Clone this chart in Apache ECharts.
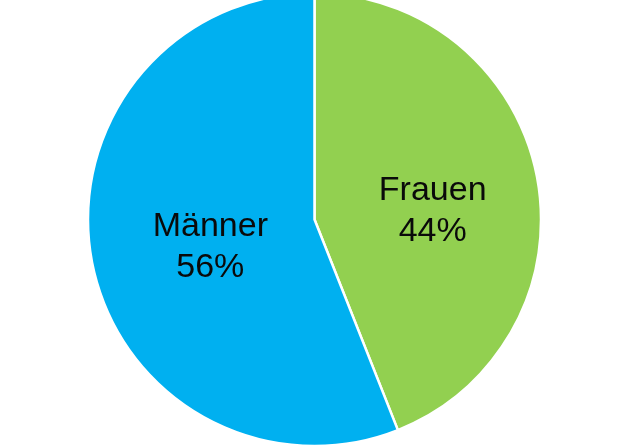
<!DOCTYPE html>
<html>
<head>
<meta charset="utf-8">
<script src="https://cdn.jsdelivr.net/npm/echarts@6/dist/echarts.min.js"></script>
<style>
  html, body { margin: 0; padding: 0; background: #fff; }
  #chart { width: 640px; height: 448px; }
</style>
</head>
<body>
<div id="chart"></div>
<script>
// Geschlechterverteilung
var categories = ["Frauen", "Männer"];
var shares = [44, 56];
var colors = ["#92D050", "#00B0F0"];

var chart = echarts.init(document.getElementById("chart"), null, { renderer: "canvas" });

var seriesData = categories.map(function (name, i) {
  return { name: name, value: shares[i], itemStyle: { color: colors[i] } };
});

chart.setOption({
  animation: false,
  series: [
    {
      type: "pie",
      center: [314.5, 219.5],
      radius: 226.5,
      startAngle: 90,
      clockwise: true,
      data: seriesData,
      itemStyle: { borderColor: "#fff", borderWidth: 2.5 },
      label: {
        show: true,
        position: "inside",
        formatter: function (p) {
          return p.name + "\n" + p.value + "%";
        },
        color: "#0a0a0a",
        fontFamily: "Liberation Sans, Arial, sans-serif",
        fontSize: 34,
        lineHeight: 41
      },
      labelLine: { show: false },
      labelLayout: function (p) {
        // kleine Korrektur der Beschriftung
        return p.dataIndex === 0 ? { dx: 4, dy: 13 } : { dx: 10, dy: 6 };
      }
    }
  ]
});
</script>
</body>
</html>
